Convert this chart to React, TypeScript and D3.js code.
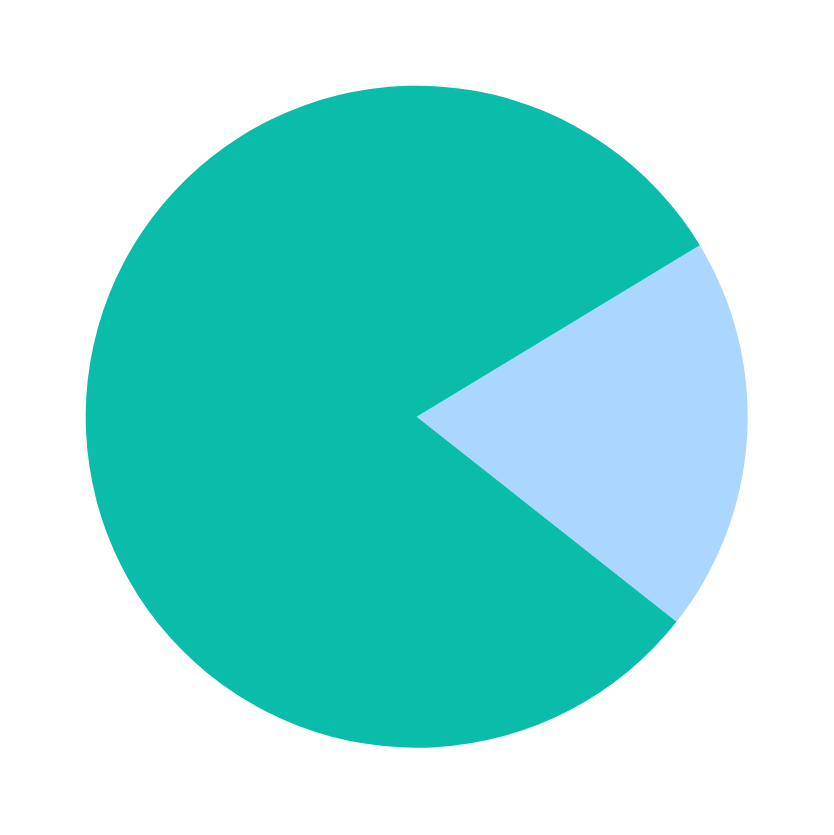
import * as React from 'react';
import * as d3 from 'd3';

const labels = ['Segment B', 'Segment A'];
const values = [19.3, 80.7];
const colors = ['#abd6fd', '#0abdab'];

const W = 834;
const H = 835;
const cx = 416.7;
const cy = 416.7;
const radius = 331;
const startDeg = 58.8;

export default function App() {
  const start = (startDeg * Math.PI) / 180;
  const pie = d3
    .pie<number>()
    .sort(null)
    .startAngle(start)
    .endAngle(start + 2 * Math.PI);
  const arcs = pie(values);
  const arc = d3.arc<d3.PieArcDatum<number>>().innerRadius(0).outerRadius(radius);

  return (
    <svg
      width={W}
      height={H}
      style={{ position: 'absolute', left: 0, top: 0, display: 'block', background: '#fff' }}
    >
      <g transform={`translate(${cx},${cy})`}>
        {arcs.map((a, i) => (
          <path key={labels[i]} d={arc(a) || ''} fill={colors[i]} />
        ))}
      </g>
    </svg>
  );
}
